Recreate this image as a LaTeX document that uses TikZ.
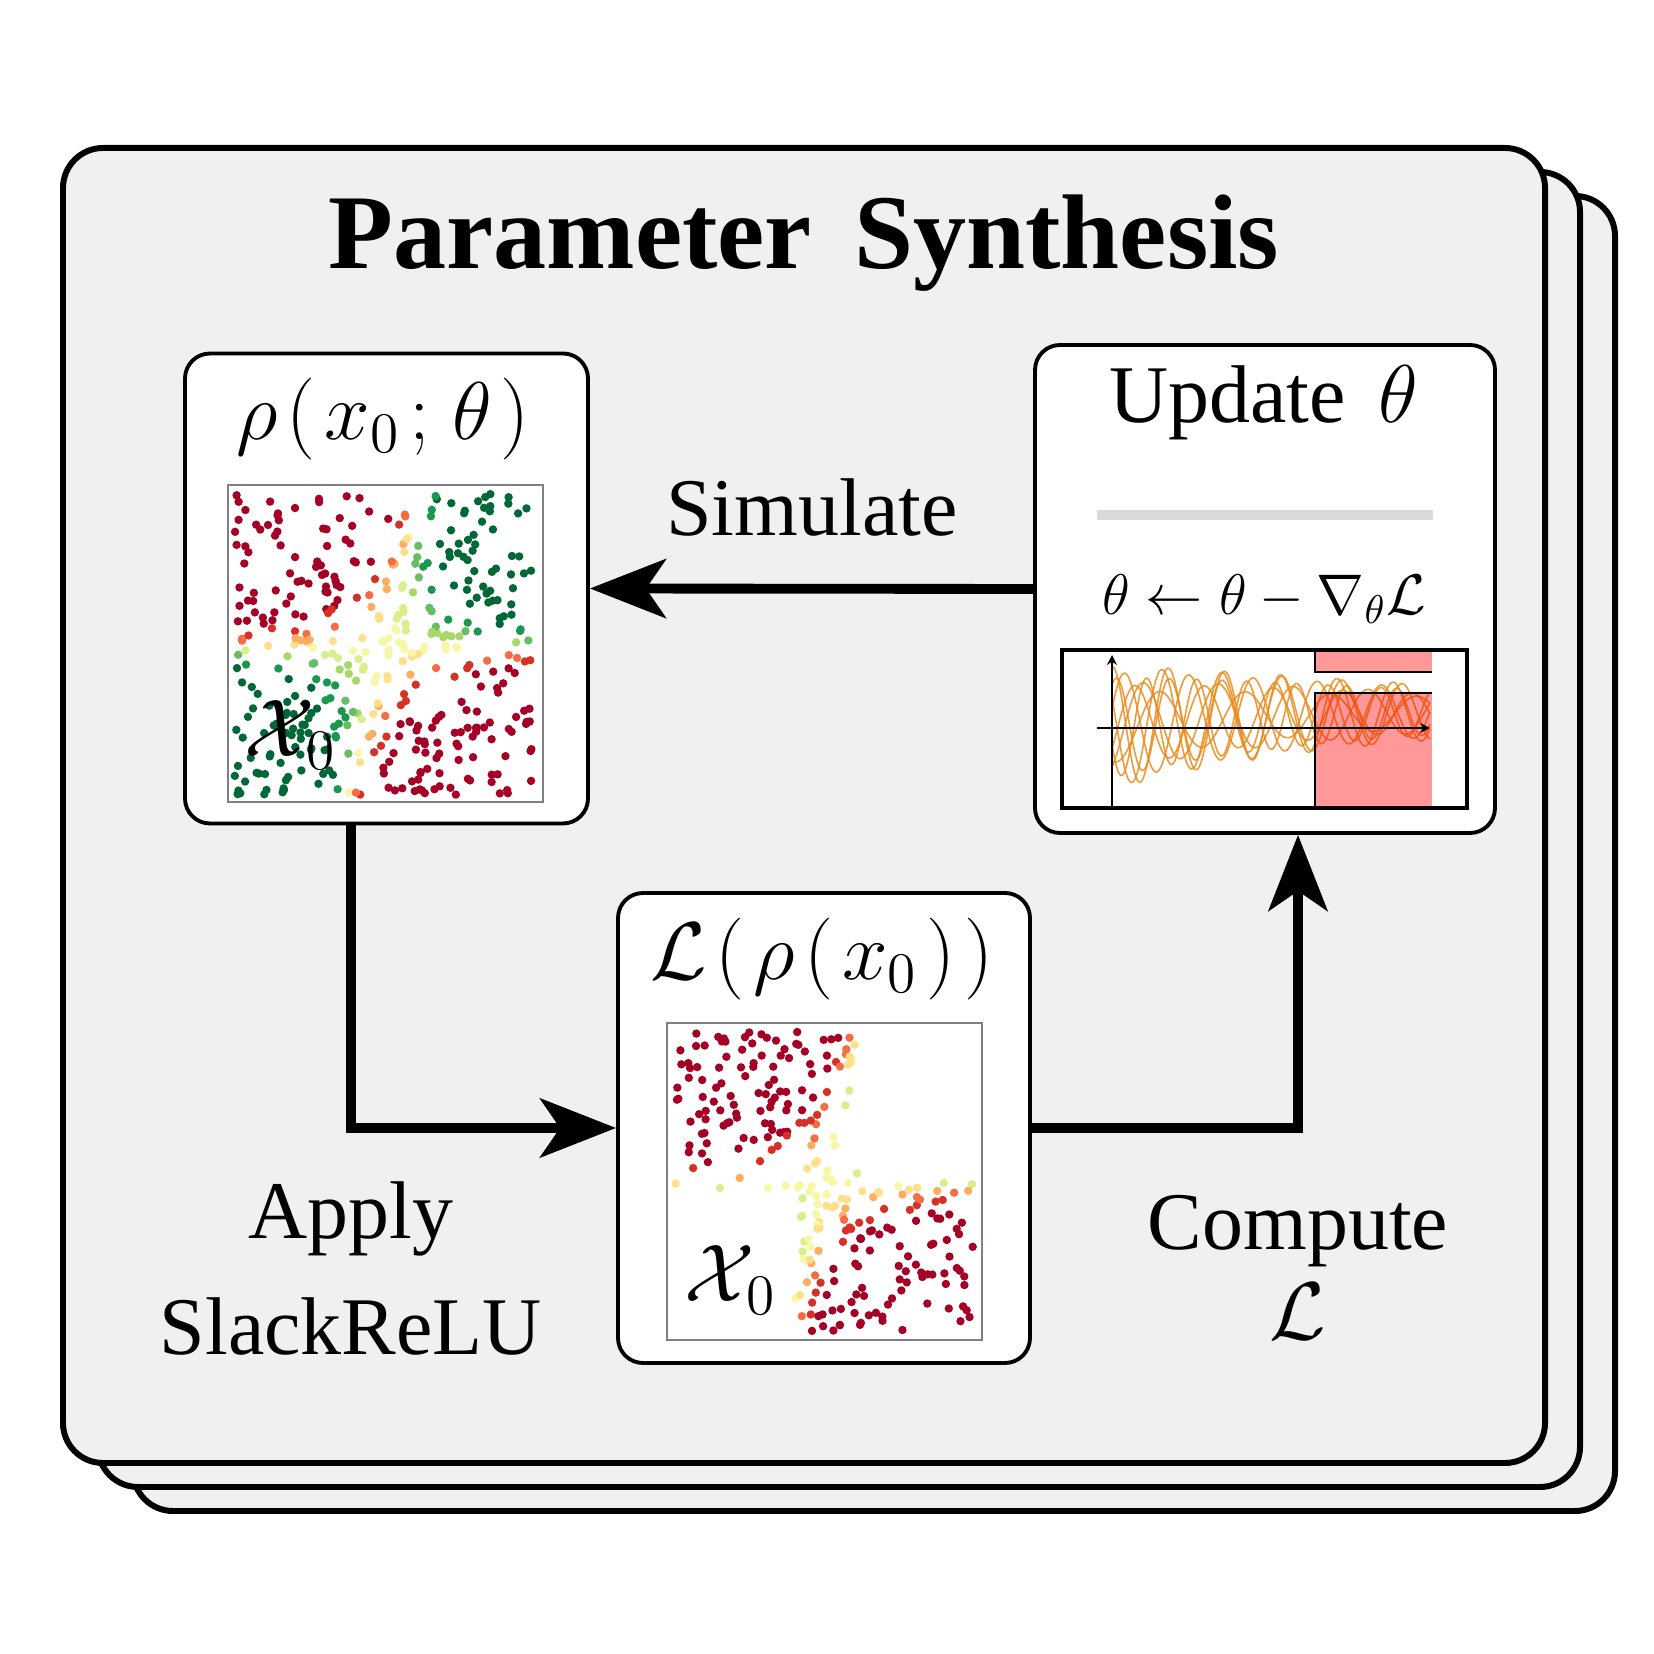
\RequirePackage{fix-cm}
\documentclass[tikz,border=0pt]{standalone}
\usepackage[no-math]{fontspec}
\setmainfont{Liberation Serif}
\usetikzlibrary{arrows.meta, positioning}

\definecolor{panelgray}{HTML}{F0F0F0}
\definecolor{sepgray}{HTML}{D9D9D9}
\definecolor{curveorange}{HTML}{EC8A1A}
\definecolor{rdylgn0}{HTML}{A50026}
\definecolor{rdylgn1}{HTML}{D73027}
\definecolor{rdylgn2}{HTML}{F46D43}
\definecolor{rdylgn3}{HTML}{FDAE61}
\definecolor{rdylgn4}{HTML}{FEE08B}
\definecolor{rdylgn5}{HTML}{F7F7A8}
\definecolor{rdylgn6}{HTML}{D9EF8B}
\definecolor{rdylgn7}{HTML}{A6D96A}
\definecolor{rdylgn8}{HTML}{66BD63}
\definecolor{rdylgn9}{HTML}{1A9850}
\definecolor{rdylgn10}{HTML}{006837}

% random samples of the initial set, coloured by robustness
\newcommand{\scatterdots}[3]{%
  \pgfmathsetseed{#1}%
  \foreach \k in {1,...,#2}{%
    \pgfmathsetmacro{\ptx}{0.025+0.95*rnd}%
    \pgfmathsetmacro{\pty}{0.025+0.95*rnd}%
    \pgfmathsetmacro{\ptval}{tanh(max(-3,min(3,60*(\ptx-0.38-0.24*\pty)*(\pty-0.49))))}%
    \pgfmathtruncatemacro{\ptidx}{round(5+5*\ptval)}%
    \ifnum\ptidx<#3\relax
      \fill[rdylgn\ptidx] (3.15*\ptx,3.17*\pty) circle (0.042);
    \fi}}

\begin{document}
\begin{tikzpicture}[
        font=\fontsize{23.3}{28}\selectfont,
        panel/.style={rectangle, draw, line width=1.7pt, rounded corners=0.4cm, fill=panelgray, minimum width=14.82cm, minimum height=13.15cm},
        card/.style={rectangle, draw, line width=1.1pt, rounded corners=0.25cm, fill=white},
        frame/.style={rectangle, draw=gray, line width=0.6pt, fill=white, inner sep=0pt},
        arrow/.style={-{Stealth[length=7.6mm, width=5.9mm, inset=2mm]}, line width=2.8pt},
        lbl/.style={anchor=base, inner sep=0pt}
    ]
    \useasboundingbox (0,0) rectangle (16.54,16.54);

    % Panels
    \node[panel] (panel3) at (8.74,8.005) {};
    \node[panel] (panel2) at (8.39,8.245) {};
    \node[panel] (panel) at (8.04,8.485) {};
    \node[lbl, font=\bfseries\fontsize{30.2}{36}\selectfont] (title) at (8.04,13.85) {Parameter\hspace{0.4em}Synthesis};

    % Cards
    \node[card, minimum width=4.03cm, minimum height=4.70cm] (rho) at (3.865,10.655) {};
    \node[card, minimum width=4.60cm, minimum height=4.88cm] (update) at (12.65,10.65) {};
    \node[card, minimum width=4.12cm, minimum height=4.70cm] (loss) at (8.24,5.26) {};

    % rho card
    \node[lbl] (rhotitle) at (3.83,12.14) {$\rho\mkern2mu(\mkern2mu x_0\mkern2mu;\mkern2mu\theta\mkern2mu)$};
    \node[frame, minimum width=3.15cm, minimum height=3.17cm] (rhoplot) at (3.855,10.105) {};
    \begin{scope}[shift={(rhoplot.south west)}]
        \scatterdots{11}{440}{11}
    \end{scope}
    \node[lbl, anchor=base west] (rhoset) at (2.44,8.97) {$\mathcal{X}_{\mkern1mu 0}$};

    % update card
    \node[lbl] (updtitle) at (12.64,12.31) {Update\hspace{0.4em}$\theta$};
    \draw[sepgray, line width=3pt] (10.97,11.39) -- (14.33,11.39);
    \node[lbl, font=\fontsize{16.3}{19}\selectfont] (rule) at (12.64,10.39) {$\theta \leftarrow \theta - \nabla_\theta\mathcal{L}$};
    \begin{scope}[shift={(11.12,9.26)}]
        \foreach \amp/\freq/\phase in {0.62/640/90, 0.55/560/20, 0.5/720/200, 0.45/480/300, 0.6/600/150, 0.35/420/250, 0.5/680/60, 0.42/520/330}
            \draw[curveorange, line width=0.45pt, opacity=0.85] plot[domain=0:3.18, samples=150, smooth] (\x, {0.17*(1-exp(-0.8*\x)) + \amp*exp(-0.25*\x)*sin(\freq*\x+\phase)});
    \end{scope}
    \fill[red, fill opacity=0.4] (13.15,8.46) rectangle (14.32,9.61);
    \fill[red, fill opacity=0.4] (13.15,9.82) rectangle (14.32,10.04);
    \draw[line width=0.6pt] (13.15,8.46) |- (14.32,9.61);
    \draw[line width=0.6pt] (13.15,10.04) |- (14.32,9.82);
    \draw[line width=0.6pt, -{Stealth[length=1mm, width=1mm]}] (11.12,8.46) -- (11.12,9.99);
    \draw[line width=0.6pt, -{Stealth[length=1mm, width=1mm]}] (10.97,9.26) -- (14.30,9.26);
    \node[draw, line width=1.1pt, minimum width=4.05cm, minimum height=1.58cm, inner sep=0pt] (trajplot) at (12.645,9.25) {};

    % loss card
    \node[lbl] (losstitle) at (8.22,6.74) {$\mathcal{L}\mkern2mu(\mkern2mu\rho\mkern2mu(\mkern2mu x_0\mkern2mu)\mkern2mu)$};
    \node[frame, minimum width=3.15cm, minimum height=3.17cm] (lossplot) at (8.245,4.725) {};
    \begin{scope}[shift={(lossplot.south west)}]
        \scatterdots{29}{440}{7}
    \end{scope}
    \node[lbl, anchor=base west] (lossset) at (6.84,3.52) {$\mathcal{X}_{\mkern1mu 0}$};

    % Arrows
    \draw[arrow] (update.west) -- (rho.east);
    \draw[arrow] ([xshift=-3.55mm]rho.south) |- (loss.west);
    \draw[arrow] (loss.east) -| ([xshift=3.3mm]update.south);

    % Labels
    \node[lbl] (simulate) at (8.12,11.18) {Simulate};
    \node[lbl] (apply) at (3.51,4.15) {Apply};
    \node[lbl] (slack) at (3.51,2.99) {SlackReLU};
    \node[lbl] (compute) at (12.98,4.04) {Compute};
    \node[lbl] (computeloss) at (12.98,3.14) {$\mathcal{L}$};

\end{tikzpicture}
\end{document}
